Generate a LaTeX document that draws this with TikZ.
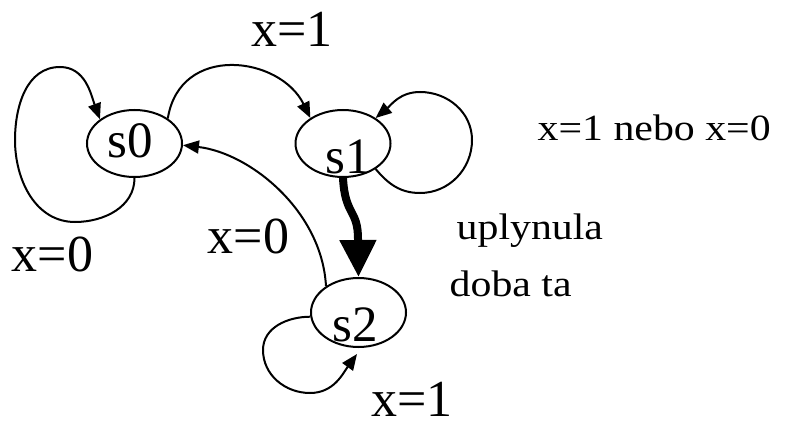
\documentclass[tikz,border=0pt]{standalone}
\usepackage{fontspec}
\setmainfont{Liberation Serif}
\usepackage{graphicx}
\usetikzlibrary{arrows.meta,shapes.geometric}
\begin{document}
\begin{tikzpicture}[x=1pt,y=1pt,
  state/.style={draw, ellipse, line width=2pt, minimum width=95pt, minimum height=67pt, inner sep=0pt},
  statetext/.style={anchor=base, inner sep=0pt, font=\fontsize{51}{60}\selectfont},
  biglabel/.style={anchor=base west, inner sep=0pt, font=\fontsize{52}{62}\selectfont},
  smalllabel/.style={anchor=base west, inner sep=0pt, font=\fontsize{37}{44}\selectfont},
  edge/.style={line width=2pt, -{Triangle[length=16pt,width=13pt]}},
  bigedge/.style={line width=8pt, -{Triangle[length=37pt,width=35pt]}}]
\useasboundingbox (0,0) rectangle (786,421);

\node[state] (s0) at (134.5,277.5) {};
\node[state] (s1) at (343,277.5) {};
\node[state, minimum height=69pt] (s2) at (358.5,108.5) {};

\node[statetext] (t0) at (130,263) {s0};
\node[statetext] (t1) at (348,248) {s1};
\node[statetext] (t2) at (355,80) {s2};

\coordinate (tip2) at (357,67);

% s0 self loop
\draw[edge] (s0.-90) to[out=-90,in=0] (75,199) to[out=180,in=-90] (15,281)
  to[out=90,in=180] (60,354) to[out=0,in=110] (s0.145);
% s0 -> s1
\draw[edge] (s0.37) .. controls (180,378) and (280,365) .. (s1.142);
% s1 self loop
\draw[edge] (s1.-38) to[out=-50,in=180] (420,228) to[out=0,in=-90] (472,281)
  to[out=90,in=0] (420,329) to[out=180,in=40] (s1.38);
% s1 -> s2 (thick)
\draw[bigedge] (s1.south) .. controls (345,205) and (358,212) .. (358,182) -- (s2.north);
% s2 -> s0
\draw[edge] (s2.141) .. controls (322,210) and (250,268) .. (s0.-2);
% s2 self loop
\draw[edge] (s2.185) to[out=180,in=90] (263,71) to[out=-90,in=180] (310,28)
  to[out=0,in=-126] (tip2);

\node[biglabel] (l01) at (251,374) {x=1};
\node[biglabel] (l00) at (11.5,150) {x=0};
\node[biglabel] (l20) at (207.5,168) {x=0};
\node[biglabel] (l22) at (371,5) {x=1};
\node[smalllabel] (l11) at (537.5,280) {\scalebox{1.13}[1]{x=1 nebo x=0}};
\node[smalllabel] (l12a) at (456.5,182) {\scalebox{1.13}[1]{uplynula}};
\node[smalllabel] (l12b) at (449.5,125) {\scalebox{1.13}[1]{doba ta}};
\end{tikzpicture}
\end{document}
